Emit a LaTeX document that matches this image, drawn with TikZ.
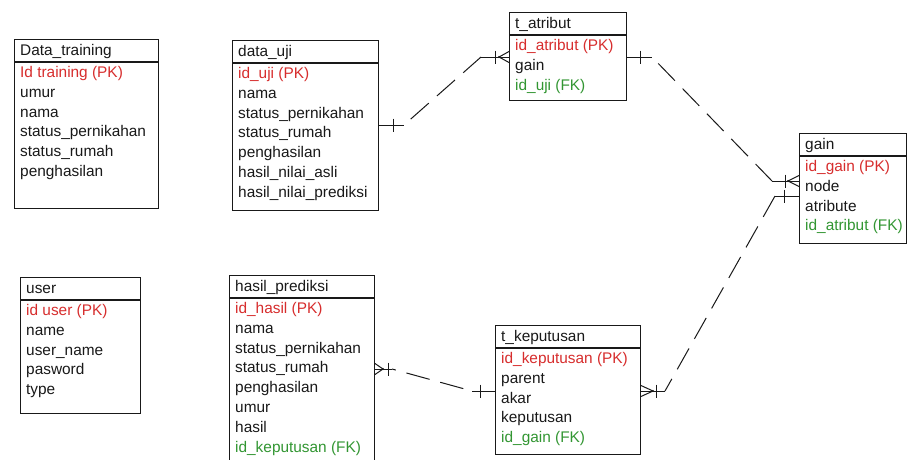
\documentclass[tikz,border=0pt]{standalone}
\usepackage{fontspec}
\setmainfont{Liberation Sans}
\definecolor{pkred}{RGB}{215,45,45}
\definecolor{fkgreen}{RGB}{50,150,50}
\definecolor{ink}{RGB}{25,25,25}
\newcommand\erdtable[7]{%
  \node[tblbox, minimum width=#4pt, minimum height=#5pt] (#1) at (#2,#3) {};
  \node[txt] (#1-title) at (#2+6,#3+12.5) {#6};
  \draw[tblline] (#2,#3+23) -- ++(#4,0);
  \foreach \c/\t [count=\i from 0] in {#7}
    \node[txt, text=\c] (#1-r\i) at (#2+6,#3+34.5+19.8*\i) {\t};
}
\newcommand\tickmark[2]{\draw[stub] (#1,#2-6.5) -- (#1,#2+6.5);}
\newcommand\crowfoot[3]{% junction x, edge x, y
  \draw[stub] (#1,#3) -- (#2,#3-5.5) (#1,#3) -- (#2,#3+5.5);
  \fill[ink] (#1,#3) circle (1.1pt);}
\begin{document}
\begin{tikzpicture}[x=1pt,y=-1pt,
  tblbox/.style={draw=ink, line width=1.2pt, anchor=north west, inner sep=0pt, fill=white},
  tblline/.style={draw=ink, line width=1.2pt},
  txt/.style={anchor=west, inner sep=0pt, text height=11pt, text depth=3pt, text=ink,
    font=\fontsize{15.4}{18}\selectfont},
  stub/.style={draw=ink, line width=1pt},
  rel/.style={draw=ink, line width=1pt, dash pattern=on 24pt off 11pt}]
\fill[white] (0,0) rectangle (909,459);
\useasboundingbox (0,0) rectangle (909,459);

\erdtable{datatraining}{14}{39}{144}{169}{Data\_training}{pkred/Id training (PK), ink/umur, ink/nama, ink/status\_pernikahan, ink/status\_rumah, ink/penghasilan}
\erdtable{datauji}{232}{40}{146}{170}{data\_uji}{pkred/id\_uji (PK), ink/nama, ink/status\_pernikahan, ink/status\_rumah, ink/penghasilan, ink/hasil\_nilai\_asli, ink/hasil\_nilai\_prediksi}
\erdtable{tatribut}{509}{12}{117}{88}{t\_atribut}{pkred/id\_atribut (PK), ink/gain, fkgreen/id\_uji (FK)}
\erdtable{gain}{799}{133}{107}{110}{gain}{pkred/id\_gain (PK), ink/node, ink/atribute, fkgreen/id\_atribut (FK)}
\erdtable{user}{20}{277}{120}{136}{user}{pkred/id user (PK), ink/name, ink/user\_name, ink/pasword, ink/type}
\erdtable{hasilprediksi}{229}{275}{145}{190}{hasil\_prediksi}{pkred/id\_hasil (PK), ink/nama, ink/status\_pernikahan, ink/status\_rumah, ink/penghasilan, ink/umur, ink/hasil, fkgreen/id\_keputusan (FK)}
\erdtable{tkeputusan}{495}{325}{145}{129}{t\_keputusan}{pkred/id\_keputusan (PK), ink/parent, ink/akar, ink/keputusan, fkgreen/id\_gain (FK)}

% data_uji -- t_atribut
\coordinate (c1a) at (404,125);
\coordinate (c1b) at (481,57);
\draw[stub] (datauji.east |- c1a) -- (c1a);
\tickmark{393}{125}
\draw[rel, dash phase=26pt] (c1a) -- (c1b);
\draw[stub] (c1b) -- (tatribut.west |- c1b);
\tickmark{495}{57}
\crowfoot{499}{509}{57}

% t_atribut -- gain
\coordinate (c2a) at (652,57);
\coordinate (c2b) at (772,181);
\draw[stub] (tatribut.east |- c2a) -- (c2a);
\tickmark{640}{57}
\draw[rel, dash phase=26pt] (c2a) -- (c2b);
\draw[stub] (c2b) -- (gain.west |- c2b);
\tickmark{785}{181}
\crowfoot{788}{799}{181}

% gain -- t_keputusan
\coordinate (c3a) at (775,196);
\coordinate (c3b) at (665,391);
\draw[stub] (c3a) -- (gain.west |- c3a);
\tickmark{784}{196}
\draw[rel] (c3a) -- (c3b);
\draw[stub] (tkeputusan.east |- c3b) -- (c3b);
\crowfoot{653}{641}{391}
\tickmark{656}{391}

% t_keputusan -- hasil_prediksi
\coordinate (c4a) at (472,391);
\coordinate (c4b) at (392,369);
\draw[stub] (c4a) -- (tkeputusan.west |- c4a);
\tickmark{480}{391}
\draw[rel, dash phase=26pt] (c4a) -- (c4b);
\draw[stub] (hasilprediksi.east |- c4b) -- (c4b);
\crowfoot{383}{375}{369}
\tickmark{388}{369}
\end{tikzpicture}
\end{document}
